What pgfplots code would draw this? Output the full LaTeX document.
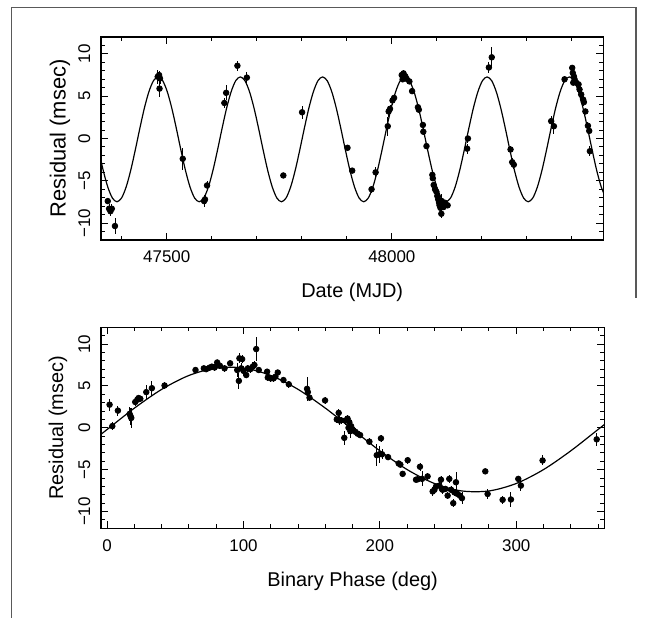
\documentclass[border=0pt]{standalone}
\usepackage{fontspec}
\setmainfont{Liberation Sans}
\usepackage{pgfplots}
\pgfplotsset{compat=1.18}

\pgfplotsset{
  resid/.style={
    scale only axis, anchor=south west,
    ymin=-12, ymax=12,
    ytick={-10,-5,0,5,10}, yticklabels={−10,−5,0,5,10},
    minor ytick={-12,-11,...,12},
    tick align=inside,
    major tick length=3.5bp, minor tick length=2bp,
    every tick/.append style={black, line width=0.5pt},
    axis line style={line width=0.7pt},
    /pgf/number format/assume math mode=true,
    tick label style={font=\fontsize{8.5}{10}\selectfont},
    xticklabel style={anchor=center, yshift=-8.5bp},
    yticklabel style={rotate=90, anchor=south},
    yticklabel shift=1.8pt,
    scaled x ticks=false,
    label style={font=\fontsize{10}{12}\selectfont},
  },
  pts/.style={only marks, mark=*, mark size=1.4bp, black,
    error bars/.cd, y dir=both, y explicit,
    error bar style={line width=0.45pt}, error mark=none},
  fit/.style={black, line width=0.6pt, smooth, no marks},
}

\begin{document}
\begin{tikzpicture}
\useasboundingbox (0,0) rectangle (324bp,309bp);
\draw[black!65, line width=0.8bp] (5.8bp,0) -- (5.8bp,305.3bp) -- (318bp,305.3bp) -- (318bp,160bp);

% timing residuals against date
\begin{axis}[resid, at={(50.5bp,189bp)}, width=251.2bp, height=101.5bp,
  xmin=47354, xmax=48470,
  xtick={47500,48000}, xticklabels={47500,48000},
  minor xtick={47400,47600,47700,47800,47900,48100,48200,48300,48400},
  xlabel={Date (MJD)}, ylabel={Residual (msec)},
  xlabel style={at={(axis description cs:0.5,-0.259)}, anchor=center},
  ylabel style={at={(axis description cs:-0.0816,0.5)}, anchor=center, font=\fontsize{11}{12}\selectfont}]
\addplot[fit] table {
47348.85 -1.38
47359.00 -3.79
47369.15 -5.75
47379.30 -7.04
47389.45 -7.48
47399.60 -7.04
47409.75 -5.75
47419.90 -3.79
47430.05 -1.38
47440.20 1.18
47450.35 3.59
47460.50 5.55
47470.65 6.84
47480.80 7.28
47490.95 6.84
47501.10 5.55
47511.25 3.59
47521.40 1.18
47531.55 -1.38
47541.70 -3.79
47551.85 -5.75
47562.00 -7.04
47572.15 -7.48
47582.30 -7.04
47592.45 -5.75
47602.60 -3.79
47612.75 -1.38
47622.90 1.18
47633.05 3.59
47643.20 5.55
47653.35 6.84
47663.50 7.28
47673.65 6.84
47683.80 5.55
47693.95 3.59
47704.10 1.18
47714.25 -1.38
47724.40 -3.79
47734.55 -5.75
47744.70 -7.04
47754.85 -7.48
47765.00 -7.04
47775.15 -5.75
47785.30 -3.79
47795.45 -1.38
47805.60 1.18
47815.75 3.59
47825.90 5.55
47836.05 6.84
47846.20 7.28
47856.35 6.84
47866.50 5.55
47876.65 3.59
47886.80 1.18
47896.95 -1.38
47907.10 -3.79
47917.25 -5.75
47927.40 -7.04
47937.55 -7.48
47947.70 -7.04
47957.85 -5.75
47968.00 -3.79
47978.15 -1.38
47988.30 1.18
47998.45 3.59
48008.60 5.55
48018.75 6.84
48028.90 7.28
48039.05 6.84
48049.20 5.55
48059.35 3.59
48069.50 1.18
48079.65 -1.38
48089.80 -3.79
48099.95 -5.75
48110.10 -7.04
48120.25 -7.48
48130.40 -7.04
48140.55 -5.75
48150.70 -3.79
48160.85 -1.38
48171.00 1.18
48181.15 3.59
48191.30 5.55
48201.45 6.84
48211.60 7.28
48221.75 6.84
48231.90 5.55
48242.05 3.59
48252.20 1.18
48262.35 -1.38
48272.50 -3.79
48282.65 -5.75
48292.80 -7.04
48302.95 -7.48
48313.10 -7.04
48323.25 -5.75
48333.40 -3.79
48343.55 -1.38
48353.70 1.18
48363.85 3.59
48374.00 5.55
48384.15 6.84
48394.30 7.28
48404.45 6.84
48414.60 5.55
48424.75 3.59
48434.90 1.18
48445.05 -1.38
48455.20 -3.79
48465.35 -5.75
48475.50 -7.04
};
\addplot[pts] table[y error index=2] {
47369 -7.4 0.4
47372 -8.3 0.5
47375 -8.6 0.6
47378 -8.3 0.5
47385 -10.35 0.9
47480 7.3 0.8
47483 7.5 0.5
47485 7.1 0.6
47484 5.9 1.0
47535.6 -2.4 1.3
47583 -7.4 0.7
47585 -7.2 0.6
47589.6 -5.55 0.5
47628 4.2 0.6
47632 5.4 0.9
47657 8.6 0.6
47678 7.2 0.7
47759 -4.37 0.2
47800.7 3.1 0.8
47901.5 -1.1 0.2
47912 -3.8 0.3
47955 -6.0 0.4
47964 -4.0 0.6
47991 1.45 1.1
47993 3.2 0.6
47996 3.5 0.5
48001.5 4.5 0.5
48005 4.8 0.4
48022 7.5 0.4
48026 7.7 0.4
48030 7.35 0.4
48024 7.0 0.3
48033 7.05 0.3
48039 6.75 0.3
48045 5.6 0.3
48058 3.7 0.4
48060 3.4 0.3
48069 1.6 0.4
48070 0.8 0.4
48077 -0.9 0.3
48090 -4.3 0.3
48091 -4.7 0.3
48093 -5.5 0.3
48096 -6.0 0.4
48099 -6.3 0.3
48101 -6.8 0.4
48103 -7.2 0.5
48105 -7.6 0.4
48106 -7.9 0.6
48108 -8.2 0.4
48110 -8.9 0.5
48111 -7.4 0.8
48113 -7.8 0.4
48115 -8.1 0.3
48118 -7.6 0.3
48124 -7.9 0.3
48167.4 -1.2 0.6
48169 0.0 0.5
48215.6 8.4 0.6
48222 9.6 1.2
48263.7 -1.3 0.4
48267.4 -2.8 0.5
48271 -3.1 0.5
48354 2.05 0.6
48360 1.45 0.9
48383.7 7.0 0.3
48400.7 8.35 0.3
48402 7.75 0.4
48404.4 7.35 0.4
48403 6.6 0.3
48406 7.0 0.3
48409.6 6.6 0.4
48414.8 6.4 0.4
48417 5.8 0.4
48420.7 5.2 0.8
48425 4.6 0.4
48426.7 4.3 0.4
48430 3.2 0.3
48435.6 1.5 0.4
48438.5 0.9 0.4
48440 -1.5 0.6
};
\end{axis}

% timing residuals folded on binary phase
\begin{axis}[resid, at={(50.5bp,44.85bp)}, width=251.6bp, height=100.5bp,
  xmin=-4.5, xmax=364.5,
  xtick={0,100,200,300},
  minor xtick={20,40,60,80,120,140,160,180,220,240,260,280,320,340,360},
  xlabel={Binary Phase (deg)}, ylabel={Residual (msec)},
  xlabel style={at={(axis description cs:0.5,-0.266)}, anchor=center},
  ylabel style={at={(axis description cs:-0.0855,0.5)}, anchor=center}]
\addplot[fit] table {
-20 -2.75
0 -0.20
20 2.35
40 4.59
60 6.25
80 7.14
100 7.14
120 6.25
140 4.59
160 2.35
180 -0.20
200 -2.75
220 -4.99
240 -6.65
260 -7.54
280 -7.54
300 -6.65
320 -4.99
340 -2.75
360 -0.20
380 2.35
};
\addplot[pts] table[y error index=2] {
1.8 2.76 0.7
3.8 0.2 0.5
7.9 2.05 0.6
16.5 1.66 0.8
17.2 1.38 1.0
17.7 1.18 1.2
20.6 3.08 0.5
22.1 3.35 0.5
23.0 3.55 0.4
24.3 3.47 0.3
28.7 4.26 0.8
32.8 4.73 0.9
42.1 5.05 0.4
64.8 6.9 0.3
70.9 7.1 0.3
72.6 7.0 0.3
75.1 7.18 0.3
76.8 7.3 0.3
78.8 7.2 0.4
80.7 7.8 0.3
82.7 7.4 0.3
86.1 7.1 0.4
90.2 7.7 0.3
95.4 6.9 0.8
96.6 5.6 1.0
97.0 8.3 0.6
98.3 7.1 0.6
99.0 8.2 0.5
100.0 6.8 0.6
102.0 6.3 0.4
103.2 7.1 0.4
105.0 7.0 0.4
106.8 7.3 0.5
108.0 7.5 0.5
109.3 9.4 1.4
111.2 6.9 0.3
117.3 6.7 0.3
117.8 6.0 0.4
120.0 5.9 0.4
122.0 5.9 0.4
123.4 6.1 0.3
125.1 6.6 0.3
129.3 5.7 0.4
133.2 5.2 0.4
146.6 4.65 1.4
147.2 4.26 0.5
148.4 3.6 0.3
159.8 3.27 0.4
168.4 1.0 0.4
169.8 1.78 0.5
170.3 0.87 0.5
171.5 0.9 0.4
173.9 -1.2 0.8
174.7 0.87 0.5
176.3 1.1 0.4
177.6 0.67 0.5
177.0 0.0 0.8
178.4 -0.4 0.8
178.9 0.2 0.6
180.0 -0.2 0.4
182.0 -0.47 0.4
183.7 -0.7 0.3
185.5 -0.87 0.3
192.3 -1.66 0.4
197.7 -3.27 1.3
199.6 -3.16 1.0
200.8 -1.26 0.4
201.6 -3.16 0.6
206.0 -3.5 0.3
213.8 -4.26 0.3
215.0 -4.4 0.3
216.7 -5.5 0.3
220.4 -3.87 0.4
226.5 -6.2 0.3
227.7 -6.15 0.3
229.4 -4.65 0.5
230.9 -6.1 0.9
235.0 -5.8 0.4
238.7 -7.6 0.5
240.0 -7.4 0.4
241.2 -7.0 0.3
243.6 -6.9 0.4
244.8 -6.2 0.5
245.5 -7.3 0.3
246.0 -7.4 0.5
248.0 -7.3 0.4
249.7 -8.1 0.4
250.9 -6.1 0.5
252.2 -7.4 0.4
253.8 -9.0 0.5
254.6 -7.7 0.4
255.8 -6.5 1.2
257.0 -7.9 0.4
258.7 -8.1 0.4
260.2 -8.4 0.7
277.3 -5.2 0.3
279.0 -7.9 0.6
290.0 -8.6 0.5
296.1 -8.56 0.9
301.5 -6.1 0.4
303.4 -6.9 0.6
319.3 -3.9 0.6
359.0 -1.38 0.8
};
\end{axis}
\end{tikzpicture}
\end{document}
